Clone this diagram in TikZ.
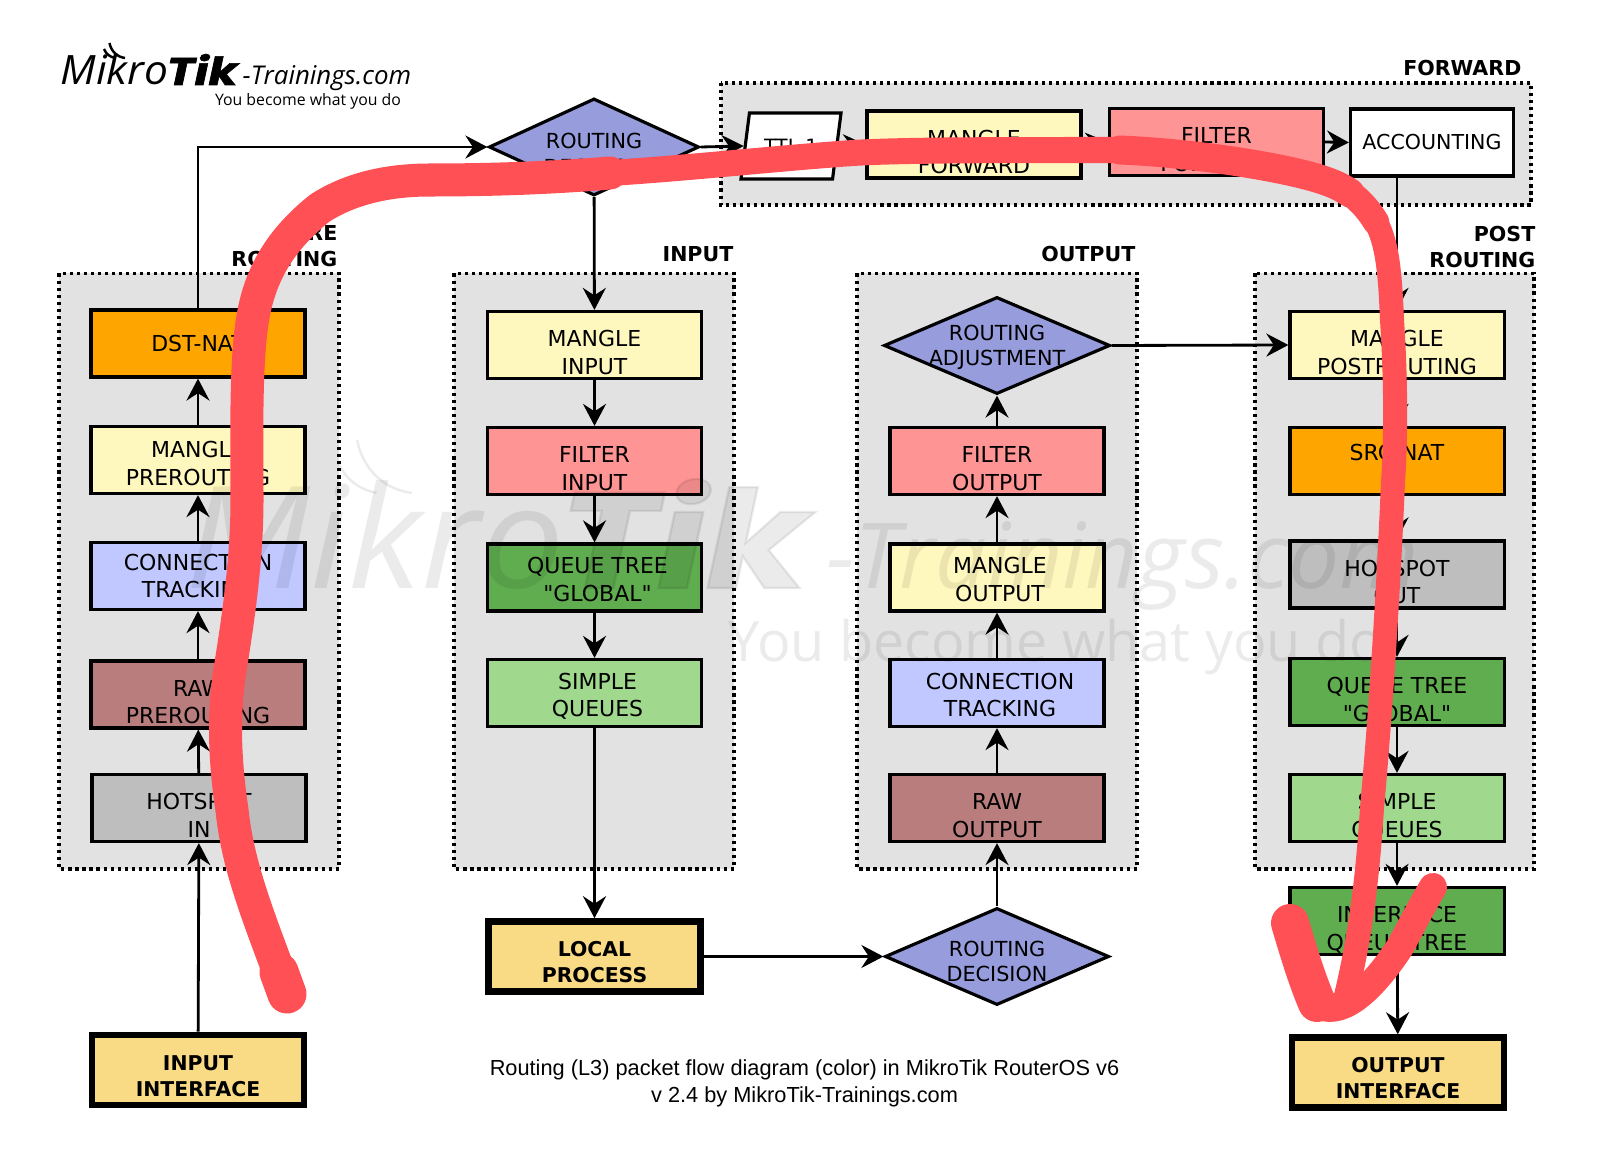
\documentclass[tikz,border=0pt]{standalone}
\usepackage{fontspec}
\setmainfont{DejaVu Sans}[Ligatures=TeXOff]
\newfontfamily\captionfont{Liberation Sans}
\newfontfamily\logofont{Open Sans}
\newfontfamily\logoheavy[BoldItalicFeatures={FakeBold=1.5}]{Poppins}
\usetikzlibrary{arrows.meta,shapes.geometric}

\definecolor{panelgray}{HTML}{E2E2E2}
\definecolor{natorange}{HTML}{FFA500}
\definecolor{mangleyellow}{HTML}{FFF8BE}
\definecolor{filterred}{HTML}{FF9494}
\definecolor{treegreen}{HTML}{60AD50}
\definecolor{queuegreen}{HTML}{A0D98E}
\definecolor{conntrackblue}{HTML}{C0C8FF}
\definecolor{rawbrown}{HTML}{B97D7D}
\definecolor{hotspotgray}{HTML}{BEBEBE}
\definecolor{ifaceyellow}{HTML}{FADB85}
\definecolor{routeblue}{HTML}{969CDC}
\definecolor{markerred}{HTML}{FF5055}

\tikzset{
    panel/.style={draw,fill=panelgray,line width=.9pt,dash pattern=on .9pt off 1.1pt},
    panelname/.style={font=\fontsize{5.85}{7.3}\selectfont\bfseries,align=right,anchor=east,inner sep=0pt},
    chain/.style={draw,line width=.9pt,minimum width=2.14cm,minimum height=.67cm,inner sep=0pt,
        align=center,font=\fontsize{6.25}{7.8}\selectfont,text height=.62cm,text depth=.035cm},
    oneline/.style={text height=.23cm,text depth=.08cm},
    upperline/.style={text height=.3cm,text depth=.3cm},
    lowered/.style={text height=.55cm,text depth=.075cm},
    iface/.style={draw,line width=1.85pt,fill=ifaceyellow,minimum width=2.12cm,minimum height=.7cm,inner sep=0pt,
        align=center,font=\fontsize{5.8}{7.3}\selectfont\bfseries,text height=.58cm,text depth=.06cm},
    decision/.style={draw,diamond,line width=.9pt,fill=routeblue,inner sep=0pt},
    decisionname/.style={align=center,inner sep=0pt,font=\fontsize{5.9}{7.3}\selectfont},
    flow/.style={-{Stealth[length=.22cm,width=.23cm,inset=.075cm]},line width=.8pt},
    marker/.style={draw=markerred,line cap=round,line join=round},
}

% logo drawn from its baseline, #1 prefixes the node names
\newcommand{\logomark}[1]{
    \draw[line width=.7pt] (47.5,-42) .. controls (49,-34) and (55,-28) .. (63,-27);
    \draw[line width=.7pt] (42,-36) .. controls (44,-31) and (48,-28) .. (53,-27);
    \node[inner sep=0pt,anchor=base west,font={\logofont\fontsize{11.5}{11.5}\selectfont\itshape}] (#1mikro) at (-2,0) {\scalebox{1.05}[1]{Mikro}};
    \node[inner sep=0pt,anchor=base west,font={\logoheavy\fontsize{11}{11}\selectfont\bfseries\itshape}] (#1tik) at (104,0) {\scalebox{1.22}[1]{Tik}};
    \node[inner sep=0pt,anchor=base west,font={\logofont\fontsize{7.35}{7.35}\selectfont\itshape}] (#1train) at (180,0) {-Trainings.com};
    \node[inner sep=0pt,anchor=base,font={\logofont\fontsize{4.5}{4.5}\selectfont}] (#1slogan) at (246,21) {You become what you do};
}

\begin{document}
\begin{tikzpicture}[x=.01cm,y=-.01cm]
    \useasboundingbox (0,0) rectangle (1600,1164);

    % panels
    \foreach \xa/\xb in {59/339,454/734,857/1137,1255/1534}
        \draw[panel] (\xa,273.5) rectangle (\xb,869);
    \draw[panel] (721,83) rectangle (1531,205);

    % panel names
    \node[panelname] (prename) at (338,246) {PRE\\ROUTING};
    \node[panelname] (inname) at (734,254) {INPUT};
    \node[panelname] (outname) at (1136,254) {OUTPUT};
    \node[panelname] (postname) at (1536,247) {POST\\ROUTING};
    \node[panelname] (fwdname) at (1522,68) {FORWARD};

    % prerouting chain
    \node[chain,oneline,fill=natorange] (dstnat) at (198,343.5) {DST-NAT};
    \node[chain,fill=mangleyellow,text height=.58cm,text depth=.073cm] (mpre) at (198,460) {MANGLE\\PREROUTING};
    \node[chain,fill=conntrackblue,text height=.53cm,text depth=.095cm] (ctpre) at (198,576) {CONNECTION\\TRACKING};
    \node[chain,fill=rawbrown] (rawpre) at (198,694.5) {RAW\\PREROUTING};
    \node[chain,fill=hotspotgray] (hsin) at (199,808) {HOTSPOT\\IN};
    \node[iface] (input) at (198,1070) {INPUT\\INTERFACE};

    % input chain
    \node[chain,fill=mangleyellow] (minp) at (594.5,345) {MANGLE\\INPUT};
    \node[chain,fill=filterred] (finp) at (594.5,461) {FILTER\\INPUT};
    \node[chain,lowered,fill=treegreen] (qtinp) at (594.5,577.5) {\hspace*{.06cm}QUEUE TREE\\\hspace*{.06cm}"GLOBAL"};
    \node[chain,lowered,fill=queuegreen] (sqinp) at (594.5,693) {\hspace*{.06cm}SIMPLE\\\hspace*{.06cm}QUEUES};
    \node[iface] (local) at (594.5,956.5) {LOCAL\\PROCESS};

    % output chain
    \node[chain,fill=filterred] (fout) at (997,461) {FILTER\\OUTPUT};
    \node[chain,lowered,fill=mangleyellow] (mout) at (997,577.5) {\hspace*{.06cm}MANGLE\\\hspace*{.06cm}OUTPUT};
    \node[chain,lowered,fill=conntrackblue] (ctout) at (997,693) {\hspace*{.06cm}CONNECTION\\\hspace*{.06cm}TRACKING};
    \node[chain,fill=rawbrown] (rawout) at (997,808) {RAW\\OUTPUT};

    % postrouting chain
    \node[chain,fill=mangleyellow] (mpost) at (1397,345) {MANGLE\\POSTROUTING};
    \node[chain,upperline,fill=natorange] (srcnat) at (1397,461) {SRC-NAT};
    \node[chain,fill=hotspotgray] (hsout) at (1397,574.5) {HOTSPOT\\OUT};
    \node[chain,fill=treegreen] (qtpost) at (1397,692) {QUEUE TREE\\"GLOBAL"};
    \node[chain,fill=queuegreen] (sqpost) at (1397,808) {SIMPLE\\QUEUES};
    \node[chain,fill=treegreen] (qtif) at (1397,921) {INTERFACE\\QUEUE TREE};
    \node[iface] (output) at (1398,1072.5) {OUTPUT\\INTERFACE};

    % forward chain
    \node[trapezium,draw,fill=white,line width=.9pt,trapezium left angle=69,trapezium right angle=111,
        trapezium stretches=true,minimum width=1cm,minimum height=.66cm,inner sep=0pt,
        font=\fontsize{5.6}{7.3}\selectfont] (ttl) at (791,146) {TTL-1};
    \node[chain,fill=mangleyellow] (mfwd) at (974,144.5) {MANGLE\\FORWARD};
    \node[chain,fill=filterred] (ffwd) at (1216.5,142) {FILTER\\FORWARD};
    \node[chain,oneline,fill=white,minimum width=1.63cm,font=\fontsize{5.85}{7.3}\selectfont] (acct) at (1432,142.5) {ACCOUNTING};

    % routing decisions
    \node[decision,minimum width=2.1cm,minimum height=.97cm] (rdtop) at (594,147) {};
    \node[decisionname] (rdtopname) at (594,154) {ROUTING\\DECISION};
    \node[decision,minimum width=2.26cm,minimum height=.97cm] (radj) at (997,345.5) {};
    \node[decisionname] (radjname) at (997,347.5) {ROUTING\\ADJUSTMENT};
    \node[decision,minimum width=2.24cm,minimum height=.97cm] (rdbot) at (997,956.5) {};
    \node[decisionname] (rdbotname) at (997,961.5) {ROUTING\\DECISION};

    % flows
    \foreach \from/\to in {input/hsin,hsin/rawpre,rawpre/ctpre,ctpre/mpre,mpre/dstnat,
        rdtop/minp,minp/finp,finp/qtinp,qtinp/sqinp,sqinp/local,
        rdbot/rawout,rawout/ctout,ctout/mout,mout/fout,fout/radj,
        mpost/srcnat,srcnat/hsout,hsout/qtpost,qtpost/sqpost,sqpost/qtif,qtif/output}
        \draw[flow] (\from) -- (\to);
    \draw[flow] (dstnat.north) |- (rdtop.west);
    \draw[flow] (rdtop.east) -- (ttl.west);
    \draw[flow] (ttl.east) -- (mfwd.west);
    \draw[flow] (mfwd.east) -- (ffwd.west);
    \draw[flow] (ffwd.east) -- (acct.west);
    \draw[flow] (acct.south -| mpost.north) -- (mpost.north);
    \draw[flow] (radj.east) -- (mpost.west);
    \draw[flow] (local.east) -- (rdbot.west);

    % logo
    \begin{scope}[shift={(62,85)},transform shape]
        \logomark{logo}
    \end{scope}

    % faint copy across the chains
    \begin{scope}[shift={(190,588)},scale=3.52,transform shape,opacity=.08]
        \logomark{faint}
    \end{scope}

    % caption
    \node[inner sep=0pt,font={\captionfont\fontsize{6.19}{7.6}\selectfont},align=center] (caption) at (804.5,1083)
        {Routing (L3) packet flow diagram (color) in MikroTik RouterOS v6\\v 2.4 by MikroTik-Trainings.com};

    % pen stroke
    \draw[marker,line width=.33cm] (287,994) .. controls (262,925) and (238,870) .. (232,810)
        .. controls (226,770) and (222,720) .. (230,670) .. controls (238,620) and (247,560) .. (247,500)
        .. controls (247,450) and (245,360) .. (253,317) .. controls (260,275) and (280,240) .. (320,208)
        .. controls (345,192) and (380,180) .. (430,180) .. controls (490,180) and (550,178) .. (610,173);
    \draw[marker,line width=.39cm] (287,994) -- (279,972);
    \draw[marker,line width=.26cm] (610,173) .. controls (690,168) and (780,158) .. (853,153)
        .. controls (900,150) and (1000,150) .. (1120,150);
    \draw[marker,line width=.29cm] (1120,150) .. controls (1190,153) and (1270,165) .. (1313,177)
        .. controls (1330,182) and (1340,186) .. (1350,193);
    \draw[marker,line width=.265cm] (1350,193) .. controls (1362,202) and (1370,212) .. (1376,222);
    \draw[marker,line width=.24cm] (1376,222) .. controls (1387,243) and (1390,270) .. (1392,320)
        .. controls (1396,380) and (1396,440) .. (1393,482) .. controls (1388,600) and (1380,720) .. (1372,808)
        .. controls (1368,870) and (1362,930) .. (1345,1000);
    \draw[marker,line width=.38cm] (1290,923) .. controls (1298,950) and (1307,980) .. (1317,1003);
    \draw[marker,line width=.28cm] (1320,1006) .. controls (1345,1016) and (1375,985) .. (1400,947)
        .. controls (1412,925) and (1422,905) .. (1433,887);
\end{tikzpicture}
\end{document}
